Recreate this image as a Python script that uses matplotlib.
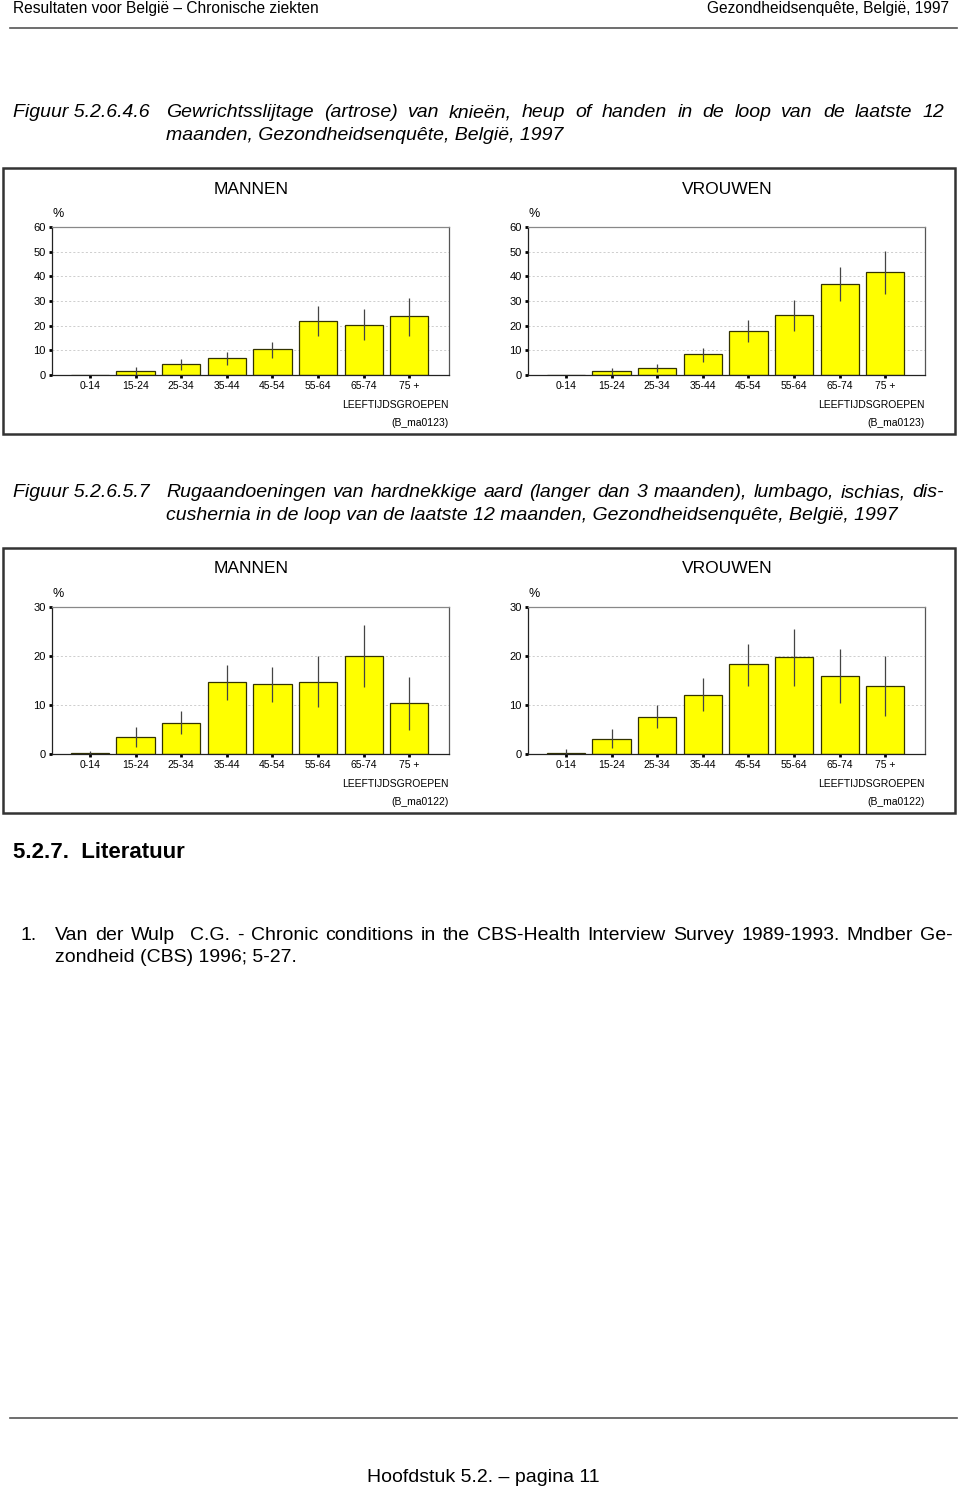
import matplotlib
matplotlib.use("Agg")
import matplotlib.pyplot as plt
from matplotlib.patches import Rectangle
from matplotlib.lines import Line2D
import numpy as np

plt.rcParams['font.family'] = ['Liberation Sans', 'DejaVu Sans']

# ---------------- data ----------------
age_groups = ["0-14", "15-24", "25-34", "35-44", "45-54", "55-64", "65-74", "75 +"]

# Figure 5.2.6.4.6 - artrose
artr_men = [0.0, 1.8, 4.3, 6.9, 10.4, 21.9, 20.2, 24.0]
artr_men_lo = [np.nan, 0.0, 2.2, 4.1, 7.0, 16.0, 14.0, 15.8]
artr_men_hi = [np.nan, 3.4, 6.5, 9.3, 13.3, 27.9, 26.8, 31.4]
artr_women = [0.0, 1.5, 2.8, 8.4, 17.7, 24.2, 36.8, 41.7]
artr_women_lo = [np.nan, 0.0, 1.2, 5.1, 13.3, 17.9, 29.8, 32.9]
artr_women_hi = [np.nan, 2.8, 4.6, 10.8, 22.1, 30.5, 43.9, 50.4]

# Figure 5.2.6.5.7 - rugaandoeningen
rug_men = [0.14, 3.5, 6.4, 14.6, 14.3, 14.7, 20.0, 10.4]
rug_men_lo = [0.0, 1.5, 4.1, 11.1, 10.6, 9.5, 13.6, 4.9]
rug_men_hi = [0.6, 5.6, 8.7, 18.1, 17.7, 19.9, 26.4, 15.7]
rug_women = [0.2, 3.1, 7.5, 12.1, 18.3, 19.7, 16.0, 13.9]
rug_women_lo = [0.0, 1.2, 5.4, 8.7, 13.9, 13.8, 10.5, 7.7]
rug_women_hi = [1.0, 5.2, 10.0, 15.5, 22.5, 25.6, 21.4, 19.9]

artr_yticks = [0, 10, 20, 30, 40, 50, 60]
rug_yticks = [0, 10, 20, 30]

header_left = "Resultaten voor België – Chronische ziekten"
header_right = "Gezondheidsenquête, België, 1997"
cap1_num = "Figuur 5.2.6.4.6"
cap1_lines = ["Gewrichtsslijtage (artrose) van knieën, heup of handen in de loop van de laatste 12",
              "maanden, Gezondheidsenquête, België, 1997"]
cap2_num = "Figuur 5.2.6.5.7"
cap2_lines = ["Rugaandoeningen van hardnekkige aard (langer dan 3 maanden), lumbago, ischias, dis-",
              "cushernia in de loop van de laatste 12 maanden, Gezondheidsenquête, België, 1997"]
lit_title = "5.2.7.  Literatuur"
ref_num = "1."
ref_lines = ["Van der Wulp  C.G. - Chronic conditions in the CBS-Health Interview Survey 1989-1993. Mndber Ge-",
             "zondheid (CBS) 1996; 5-27."]
footer = "Hoofdstuk 5.2. – pagina 11"

# ---------------- layout helpers ----------------
W, H = 960, 1489
fig = plt.figure(figsize=(W / 100, H / 100), dpi=100)
fig.patch.set_facecolor("white")


def fx(x):
    return x / W


def fy(y):
    return 1 - y / H


def txt(x, y, s, **kw):
    return fig.text(fx(x), fy(y), s, **kw)


def hline(x0, x1, y, lw=1.0, color="#555555"):
    fig.add_artist(Line2D([fx(x0), fx(x1)], [fy(y), fy(y)], transform=fig.transFigure,
                          lw=lw, color=color))


renderer = fig.canvas.get_renderer()


def line_text(x, y, s, **kw):
    # y is the visual centre of the line; place by baseline so all words align
    return txt(x, y + 5, s, va="baseline", ha="left", **kw)


def justified(x0, x1, y, s, **kw):
    words = s.split(" ")
    arts = []
    widths = []
    for w in words:
        t = fig.text(0, 0, w, va="baseline", ha="left", **kw)
        bb = t.get_window_extent(renderer=renderer)
        widths.append(bb.width if w else 0.0)
        arts.append(t)
    total = sum(widths)
    gaps = len(words) - 1
    gap = (x1 - x0 - total) / gaps if gaps > 0 else 0
    x = x0
    for t, wdt in zip(arts, widths):
        t.set_position((fx(x), fy(y + 5)))
        x += wdt + gap


# ---------------- page texts ----------------
txt(13, 9, header_left, fontsize=11.2, va="center", ha="left")
txt(949, 9, header_right, fontsize=11.2, va="center", ha="right")
hline(10, 957, 28, lw=1.2)

line_text(13, 112, cap1_num, fontsize=14, style="italic")
justified(166, 944, 112, cap1_lines[0], fontsize=14, style="italic")
line_text(166, 135, cap1_lines[1], fontsize=14, style="italic")

line_text(13, 492, cap2_num, fontsize=14, style="italic")
justified(166, 944, 492, cap2_lines[0], fontsize=14, style="italic")
line_text(166, 515, cap2_lines[1], fontsize=14, style="italic")

txt(13, 853, lit_title, fontsize=16, weight="bold", va="center", ha="left")
line_text(20, 935, ref_num, fontsize=14)
justified(55, 953, 935, ref_lines[0], fontsize=14)
line_text(55, 957, ref_lines[1], fontsize=14)

hline(10, 957, 1418, lw=1.2)
txt(483, 1478, footer, fontsize=14, va="center", ha="center")

# ---------------- frames ----------------
for (y0, y1) in [(168, 434), (548, 813)]:
    fig.add_artist(Rectangle((fx(3), fy(y1)), fx(955) - fx(3), fy(y0) - fy(y1),
                             transform=fig.transFigure, fill=False, lw=1.8,
                             edgecolor="#333333"))


# ---------------- bar panels ----------------
def panel(x0, x1, ytop, ybot, vals, lo, hi, yticks, title, code):
    ax = fig.add_axes([fx(x0), fy(ybot), fx(x1) - fx(x0), fy(ytop) - fy(ybot)])
    xs = np.arange(len(age_groups))
    ax.bar(xs, vals, width=0.84, color="#FFFF00", edgecolor="#333300", linewidth=0.9, zorder=2)
    lo_a = np.array(lo, dtype=float)
    hi_a = np.array(hi, dtype=float)
    ok = ~np.isnan(lo_a)
    ax.vlines(xs[ok], lo_a[ok], hi_a[ok], colors="#444444", linewidth=0.9, zorder=3)
    ax.set_xlim(-0.83, 7.87)
    ax.set_ylim(0, yticks[-1])
    ax.set_yticks(yticks)
    ax.set_xticks(xs)
    ax.set_xticklabels(age_groups, fontsize=7.5)
    ax.set_yticklabels([str(v) for v in yticks], fontsize=8)
    ax.tick_params(axis="both", direction="out", length=2.5, width=2, color="black", pad=2)
    for g in yticks[1:-1]:
        ax.axhline(g, color="#bbbbbb", lw=0.5, ls=(0, (3, 3)), zorder=1)
    for sp in ax.spines.values():
        sp.set_linewidth(0.9)
        sp.set_color("#222222")
    ax.spines["top"].set_color("#888888")
    ax.spines["right"].set_color("#555555")
    ax.set_facecolor("white")
    xc = (x0 + x1) / 2 + 1
    txt(xc, ytop - 38, title, fontsize=12.5, va="center", ha="center")
    txt(x0 + 6, ytop - 13, "%", fontsize=9, va="center", ha="center")
    txt(x1, ybot + 30, "LEEFTIJDSGROEPEN", fontsize=7.5, va="center", ha="right")
    txt(x1, ybot + 48, code, fontsize=7.5, va="center", ha="right")
    return ax


panel(52, 449, 227, 375, artr_men, artr_men_lo, artr_men_hi, artr_yticks, "MANNEN", "(B_ma0123)")
panel(528, 925, 227, 375, artr_women, artr_women_lo, artr_women_hi, artr_yticks, "VROUWEN", "(B_ma0123)")
panel(52, 449, 607, 754, rug_men, rug_men_lo, rug_men_hi, rug_yticks, "MANNEN", "(B_ma0122)")
panel(528, 925, 607, 754, rug_women, rug_women_lo, rug_women_hi, rug_yticks, "VROUWEN", "(B_ma0122)")

fig.savefig("out.png", dpi=100, facecolor="white")
